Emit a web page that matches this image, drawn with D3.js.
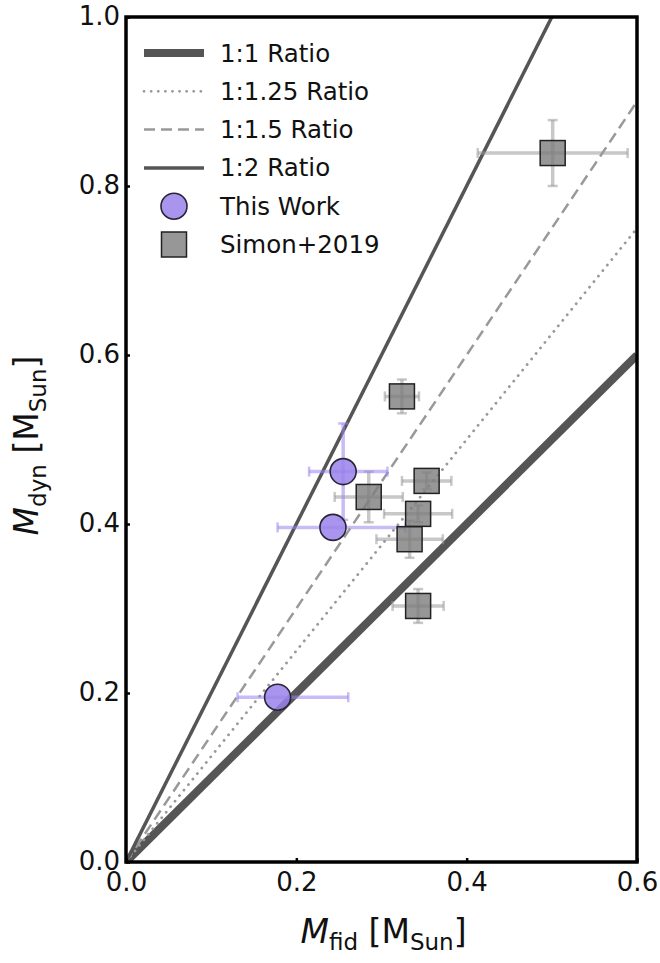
<!DOCTYPE html>
<html>
<head>
<meta charset="utf-8">
<script src="https://cdn.jsdelivr.net/npm/d3@7"></script>
<style>
  html, body { margin: 0; padding: 0; background: #fff; }
  svg { font-family: "DejaVu Sans", sans-serif; }
</style>
</head>
<body>
<svg id="chart" width="660" height="963"></svg>
<script>
// ratio lines: M_dyn = k * M_fid
const ratioNames = ["1:1 Ratio", "1:1.25 Ratio", "1:1.5 Ratio", "1:2 Ratio"];
const ratioSlopes = [1, 1.25, 1.5, 2];

// This Work
const workX = [0.255, 0.243, 0.178];
const workY = [0.462, 0.396, 0.195];
const workXlo = [0.040, 0.065, 0.047];
const workXhi = [0.052, 0.085, 0.083];
const workYerr = [0.057, 0.0, 0.0];

// Simon+2019
const simonX = [0.501, 0.324, 0.285, 0.353, 0.343, 0.333, 0.343];
const simonY = [0.839, 0.551, 0.432, 0.451, 0.412, 0.382, 0.303];
const simonXerr = [0.088, 0.020, 0.040, 0.029, 0.040, 0.039, 0.030];
const simonYerr = [0.039, 0.020, 0.030, 0.010, 0.010, 0.022, 0.020];

const xTicks = [0, 0.2, 0.4, 0.6];
const yTicks = [0, 0.2, 0.4, 0.6, 0.8, 1.0];

const margin = { left: 126, top: 17, right: 23, bottom: 101 };
const W = 660 - margin.left - margin.right;
const H = 963 - margin.top - margin.bottom;

const svg = d3.select("#chart");
const g = svg.append("g").attr("transform", `translate(${margin.left},${margin.top})`);

const x = d3.scaleLinear().domain([0, 0.6]).range([0, W]);
const y = d3.scaleLinear().domain([0, 1.0]).range([H, 0]);

svg.append("defs").append("clipPath").attr("id", "clip")
  .append("rect").attr("width", W).attr("height", H);

const plot = g.append("g").attr("clip-path", "url(#clip)");

// ratio line styles
const lineStyles = [
  { stroke: "#555", width: 8, dash: null, cap: "butt" },
  { stroke: "#9a9a9a", width: 2.8, dash: "0.1,7", cap: "round" },
  { stroke: "#999", width: 2.5, dash: "11,6", cap: "butt" },
  { stroke: "#555", width: 3.5, dash: null, cap: "butt" }
];

ratioSlopes.forEach((k, i) => {
  const st = lineStyles[i];
  plot.append("line")
    .attr("x1", x(0)).attr("y1", y(0))
    .attr("x2", x(0.6)).attr("y2", y(0.6 * k))
    .attr("stroke", st.stroke)
    .attr("stroke-width", st.width)
    .attr("stroke-linecap", st.cap)
    .attr("stroke-dasharray", st.dash);
});

// error bars helper
function errBars(sel, xs, ys, xlo, xhi, ylo, yhi, color, opacity) {
  const cap = 5;
  xs.forEach((xv, i) => {
    const eg = sel.append("g").attr("stroke", color).attr("stroke-opacity", opacity)
      .attr("stroke-width", 3.5).attr("fill", "none");
    const cy = y(ys[i]);
    const x0 = x(xv - xlo[i]), x1 = x(xv + xhi[i]);
    eg.append("line").attr("x1", x0).attr("x2", x1).attr("y1", cy).attr("y2", cy);
    eg.append("line").attr("x1", x0).attr("x2", x0).attr("y1", cy - cap).attr("y2", cy + cap).attr("stroke-width", 2.5);
    eg.append("line").attr("x1", x1).attr("x2", x1).attr("y1", cy - cap).attr("y2", cy + cap).attr("stroke-width", 2.5);
    if (ylo[i] > 0) {
      const cx = x(xv);
      const y0 = y(ys[i] - ylo[i]), y1 = y(ys[i] + yhi[i]);
      eg.append("line").attr("x1", cx).attr("x2", cx).attr("y1", y0).attr("y2", y1);
      eg.append("line").attr("x1", cx - cap).attr("x2", cx + cap).attr("y1", y0).attr("y2", y0).attr("stroke-width", 2.5);
      eg.append("line").attr("x1", cx - cap).attr("x2", cx + cap).attr("y1", y1).attr("y2", y1).attr("stroke-width", 2.5);
    }
  });
}

errBars(plot, simonX, simonY, simonXerr, simonXerr, simonYerr, simonYerr, "#9a9a9a", 0.55);
errBars(plot, workX, workY, workXlo, workXhi, workYerr, workYerr, "#9d85ee", 0.55);

// Simon+2019 squares
const sq = 25;
plot.selectAll("rect.simon")
  .data(simonX.map((v, i) => [v, simonY[i]]))
  .enter().append("rect")
  .attr("class", "simon")
  .attr("x", d => x(d[0]) - sq / 2)
  .attr("y", d => y(d[1]) - sq / 2)
  .attr("width", sq).attr("height", sq)
  .attr("fill", "#7d7d7d").attr("fill-opacity", 0.8)
  .attr("stroke", "#222").attr("stroke-width", 1.5);

// This Work circles
plot.selectAll("circle.work")
  .data(workX.map((v, i) => [v, workY[i]]))
  .enter().append("circle")
  .attr("class", "work")
  .attr("cx", d => x(d[0]))
  .attr("cy", d => y(d[1]))
  .attr("r", 13)
  .attr("fill", "#9a82ea").attr("fill-opacity", 0.85)
  .attr("stroke", "#2a2438").attr("stroke-width", 1.6);

// frame
g.append("rect").attr("width", W).attr("height", H)
  .attr("fill", "none").attr("stroke", "#000").attr("stroke-width", 3.5);

// axes
const xAxis = g.append("g").attr("transform", `translate(0,${H})`)
  .call(d3.axisBottom(x).tickValues(xTicks).tickFormat(d3.format(".1f")).tickSizeInner(-4).tickSizeOuter(0).tickPadding(11));
const yAxis = g.append("g")
  .call(d3.axisLeft(y).tickValues(yTicks).tickFormat(d3.format(".1f")).tickSizeInner(-4).tickSizeOuter(0).tickPadding(6));
[xAxis, yAxis].forEach(a => {
  a.select(".domain").remove();
  a.selectAll(".tick line").attr("stroke", "#000").attr("stroke-width", 2.5);
  a.selectAll(".tick text").attr("fill", "#111").style("font-size", "26px")
    .style("font-family", "DejaVu Sans, sans-serif");
});
yAxis.selectAll(".tick text").attr("dy", "0.3em");

// axis titles
const xt = svg.append("text")
  .attr("x", margin.left + W / 2 + 2).attr("y", 943)
  .attr("text-anchor", "middle").attr("fill", "#111")
  .style("font-size", "33px");
xt.append("tspan").attr("font-style", "italic").text("M");
xt.append("tspan").attr("font-size", "23px").attr("dy", 7).text("fid");
xt.append("tspan").attr("dy", -7).text(" [M");
xt.append("tspan").attr("font-size", "23px").attr("dy", 7).text("Sun");
xt.append("tspan").attr("dy", -7).text("]");

const yt = svg.append("text")
  .attr("transform", `translate(38,${margin.top + H / 2 + 6}) rotate(-90)`)
  .attr("text-anchor", "middle").attr("fill", "#111")
  .style("font-size", "33px");
yt.append("tspan").attr("font-style", "italic").text("M");
yt.append("tspan").attr("font-size", "23px").attr("dy", 8).text("dyn");
yt.append("tspan").attr("dy", -8).text(" [M");
yt.append("tspan").attr("font-size", "23px").attr("dy", 8).text("Sun");
yt.append("tspan").attr("dy", -8).text("]");

// legend
const legendNames = ratioNames.concat(["This Work", "Simon+2019"]);
const leg = g.append("g").attr("transform", "translate(16,36)");
legendNames.forEach((name, i) => {
  const row = leg.append("g").attr("transform", `translate(0,${i * 38.3})`);
  if (i < 4) {
    const st = lineStyles[i];
    row.append("line")
      .attr("x1", 2).attr("x2", 62).attr("y1", 0).attr("y2", 0)
      .attr("stroke", st.stroke).attr("stroke-width", st.width)
      .attr("stroke-linecap", st.cap).attr("stroke-dasharray", st.dash);
  } else if (i === 4) {
    row.append("circle").attr("cx", 32).attr("cy", 0).attr("r", 13)
      .attr("fill", "#9a82ea").attr("fill-opacity", 0.85)
      .attr("stroke", "#2a2438").attr("stroke-width", 1.6);
  } else {
    row.append("rect").attr("x", 32 - sq / 2).attr("y", -sq / 2).attr("width", sq).attr("height", sq)
      .attr("fill", "#7d7d7d").attr("fill-opacity", 0.8)
      .attr("stroke", "#222").attr("stroke-width", 1.5);
  }
  row.append("text").attr("x", 78).attr("y", 0).attr("dy", "0.35em")
    .attr("fill", "#111").style("font-size", "24.5px").text(name);
});
</script>
</body>
</html>
